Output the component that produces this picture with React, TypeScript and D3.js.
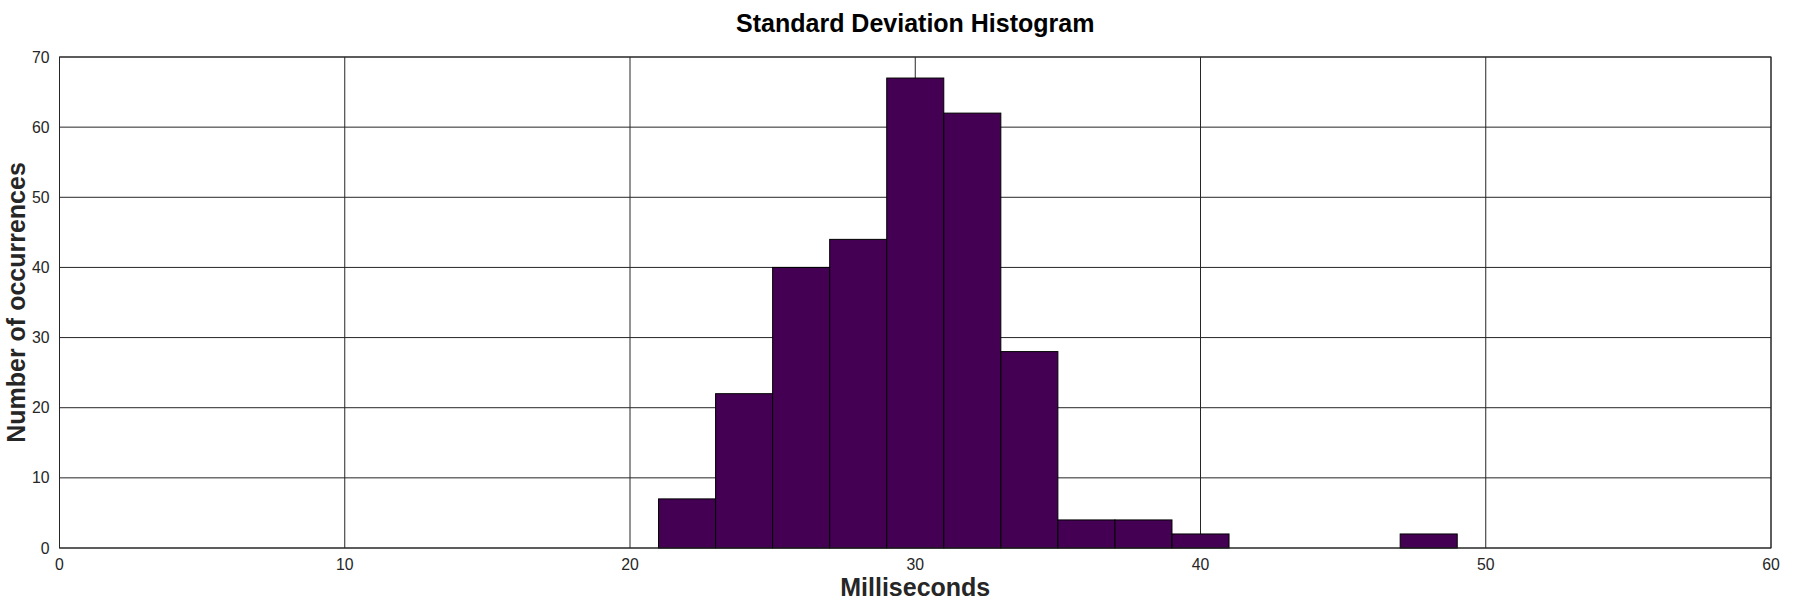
import React, { useEffect, useRef, RefObject } from "react";
import * as d3 from "d3";

// histogram bins (ms) and counts
const binEdges = [21, 23, 25, 27, 29, 31, 33, 35, 37, 39, 41, 43, 45, 47, 49];
const counts = [7, 22, 40, 44, 67, 62, 28, 4, 4, 2, 0, 0, 0, 2];

const xTicks = [0, 10, 20, 30, 40, 50, 60];
const yTicks = [0, 10, 20, 30, 40, 50, 60, 70];

const title = "Standard Deviation Histogram";
const xLabel = "Milliseconds";
const yLabel = "Number of occurrences";

const App = (): React.ReactElement => {
  const svgRef: RefObject<SVGSVGElement> = useRef(null);

  useEffect(() => {
    const width = 1800,
      height = 600,
      margin = { top: 57, right: 29, bottom: 52, left: 59.5 },
      axisColor = "#262626",
      font = "'Liberation Sans', Arial, sans-serif";

    const svg = d3.select(svgRef.current);
    svg.selectChildren().remove();
    svg.attr("width", width).attr("height", height);

    const x = d3
      .scaleLinear()
      .domain([0, 60])
      .range([margin.left, width - margin.right]);
    const y = d3
      .scaleLinear()
      .domain([0, 70])
      .range([height - margin.bottom, margin.top]);

    svg
      .append("rect")
      .attr("width", width)
      .attr("height", height)
      .attr("fill", "#ffffff");

    // grid
    const grid = svg.append("g").attr("class", "grid");
    grid
      .selectAll("line.v")
      .data(xTicks)
      .enter()
      .append("line")
      .attr("x1", (d) => x(d))
      .attr("x2", (d) => x(d))
      .attr("y1", y(0))
      .attr("y2", y(70))
      .attr("stroke", axisColor)
      .attr("stroke-width", 1);
    grid
      .selectAll("line.h")
      .data(yTicks)
      .enter()
      .append("line")
      .attr("x1", x(0))
      .attr("x2", x(60))
      .attr("y1", (d) => y(d))
      .attr("y2", (d) => y(d))
      .attr("stroke", axisColor)
      .attr("stroke-width", 1);

    // bars
    const bins = counts
      .map((c, i) => ({ x0: binEdges[i], x1: binEdges[i + 1], count: c }))
      .filter((d) => d.count > 0);

    svg
      .append("g")
      .attr("class", "bars")
      .selectAll("rect")
      .data(bins)
      .enter()
      .append("rect")
      .attr("x", (d) => x(d.x0))
      .attr("width", (d) => x(d.x1) - x(d.x0))
      .attr("y", (d) => y(d.count))
      .attr("height", (d) => y(0) - y(d.count))
      .attr("fill", "#440154")
      .attr("stroke", "#000000")
      .attr("stroke-width", 1);

    // box
    svg
      .append("rect")
      .attr("x", x(0))
      .attr("y", y(70))
      .attr("width", x(60) - x(0))
      .attr("height", y(0) - y(70))
      .attr("fill", "none")
      .attr("stroke", axisColor)
      .attr("stroke-width", 1);

    // tick labels
    svg
      .append("g")
      .selectAll("text")
      .data(xTicks)
      .enter()
      .append("text")
      .attr("x", (d) => x(d))
      .attr("y", y(0) + 22)
      .attr("text-anchor", "middle")
      .attr("font-family", font)
      .attr("font-size", 15.8)
      .attr("fill", axisColor)
      .text((d) => d);

    svg
      .append("g")
      .selectAll("text")
      .data(yTicks)
      .enter()
      .append("text")
      .attr("x", x(0) - 10)
      .attr("y", (d) => y(d) + 5.5)
      .attr("text-anchor", "end")
      .attr("font-family", font)
      .attr("font-size", 15.8)
      .attr("fill", axisColor)
      .text((d) => d);

    // labels
    svg
      .append("text")
      .attr("x", (x(0) + x(60)) / 2)
      .attr("y", 32)
      .attr("text-anchor", "middle")
      .attr("font-family", font)
      .attr("font-weight", "bold")
      .attr("font-size", 25)
      .attr("fill", "#000000")
      .text(title);

    svg
      .append("text")
      .attr("x", (x(0) + x(60)) / 2)
      .attr("y", 596)
      .attr("text-anchor", "middle")
      .attr("font-family", font)
      .attr("font-weight", "bold")
      .attr("font-size", 25)
      .attr("fill", axisColor)
      .text(xLabel);

    svg
      .append("text")
      .attr(
        "transform",
        `translate(24.5, ${(y(0) + y(70)) / 2}) rotate(-90)`
      )
      .attr("text-anchor", "middle")
      .attr("font-family", font)
      .attr("font-weight", "bold")
      .attr("font-size", 25)
      .attr("fill", axisColor)
      .text(yLabel);
  }, []);

  return (
    <div style={{ position: "absolute", left: 0, top: 0 }}>
      <svg xmlns="http://www.w3.org/2000/svg" ref={svgRef} />
    </div>
  );
};

export default App;
